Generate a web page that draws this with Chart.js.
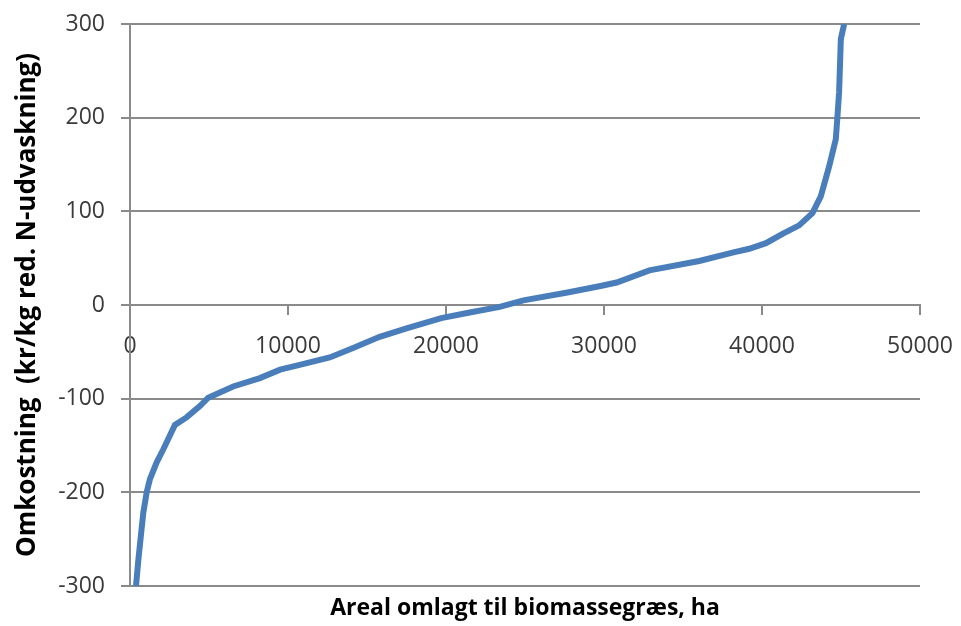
<!DOCTYPE html>
<html>
<head>
<meta charset="utf-8">
<script src="https://cdn.jsdelivr.net/npm/chart.js@4/dist/chart.umd.min.js"></script>
<style>
  html, body { margin: 0; padding: 0; background: #fff; }
  #wrap { width: 961px; height: 626px; }
</style>
</head>
<body>
<div id="wrap"><canvas id="chart" width="961" height="626"></canvas></div>
<script>
// areal (ha) og omkostning (kr/kg) aflæst fra kurven
const arealHa = [
  380, 530, 840, 1055, 1260, 1690, 2110, 2845, 3580, 4425,
  4950, 6530, 8220, 9500, 10740, 12640, 14120, 15800, 17500, 19700,
  21500, 23400, 24900, 27600, 29700, 30800, 32870, 36030, 38130, 39190,
  40250, 41300, 42350, 43190, 43720, 44250, 44670, 44770, 44880, 44990,
  45200,
];
const omkostning = [
  -300, -272, -222, -200, -186, -168, -154, -128, -120, -108,
  -99, -87, -78, -69, -64, -56, -46, -34, -25, -14,
  -8, -2, 5, 13, 20, 24, 37, 47, 56, 60,
  66, 76, 85, 98, 116, 148, 177, 200, 227, 284,
  300,
];

const xTicks = [0, 10000, 20000, 30000, 40000, 50000];
const yTicks = [-300, -200, -100, 0, 100, 200, 300];

const gridGray = '#8a8a8a';
const fontFamily = '"Open Sans", sans-serif';

const points = arealHa.map((x, i) => ({ x, y: omkostning[i] }));

new Chart(document.getElementById('chart'), {
  type: 'scatter',
  data: {
    datasets: [
      {
        data: points,
        showLine: true,
        borderColor: '#4A7EBB',
        backgroundColor: '#4A7EBB',
        borderWidth: 6,
        pointRadius: 0,
        tension: 0,
      },
    ],
  },
  options: {
    responsive: false,
    animation: false,
    layout: { padding: { top: 24, right: 41, left: 6, bottom: 0 } },
    plugins: {
      legend: { display: false },
      tooltip: { enabled: false },
    },
    scales: {
      x: {
        type: 'linear',
        position: { y: 0 },
        min: 0,
        max: 50000,
        afterBuildTicks: (scale) => {
          scale.ticks = xTicks.map((v) => ({ value: v }));
        },
        afterFit: (scale) => {
          // labels may hang over the edges, like in the original
          scale.paddingLeft = 0;
          scale.paddingRight = 0;
        },
        grid: {
          drawOnChartArea: false,
          drawTicks: true,
          tickLength: 9,
          color: gridGray,
          lineWidth: 2,
        },
        border: { display: true, color: gridGray, width: 2 },
        ticks: {
          padding: 19,
          color: '#3a3a3a',
          font: { family: fontFamily, size: 23 },
          maxRotation: 0,
          callback: (v) => String(v),
        },
      },
      x2: {
        type: 'linear',
        position: 'bottom',
        axis: 'x',
        min: 0,
        max: 50000,
        grid: { display: false },
        border: { display: false },
        ticks: { display: false },
        title: {
          display: true,
          text: 'Areal omlagt til biomassegræs, ha',
          color: '#000',
          font: { family: fontFamily, size: 23, weight: 'bold' },
          padding: { top: 2, bottom: 4 },
        },
        afterFit: (scale) => {
          scale.height = 40;
        },
      },
      y: {
        type: 'linear',
        min: -300,
        max: 300,
        afterBuildTicks: (scale) => {
          scale.ticks = yTicks.map((v) => ({ value: v }));
        },
        grid: {
          color: gridGray,
          lineWidth: 2,
          tickLength: 9,
        },
        border: { display: true, color: gridGray, width: 2 },
        ticks: {
          padding: 16,
          color: '#3a3a3a',
          font: { family: fontFamily, size: 23 },
        },
        title: {
          display: true,
          text: 'Omkostning  (kr/kg red. N-udvaskning)',
          color: '#000',
          font: { family: fontFamily, size: 26, weight: 'bold' },
          padding: { top: 6, bottom: 0 },
        },
        afterFit: (scale) => {
          scale.width = 124;
          scale.paddingTop = 0;
          scale.paddingBottom = 0;
        },
      },
    },
  },
});
</script>
</body>
</html>
